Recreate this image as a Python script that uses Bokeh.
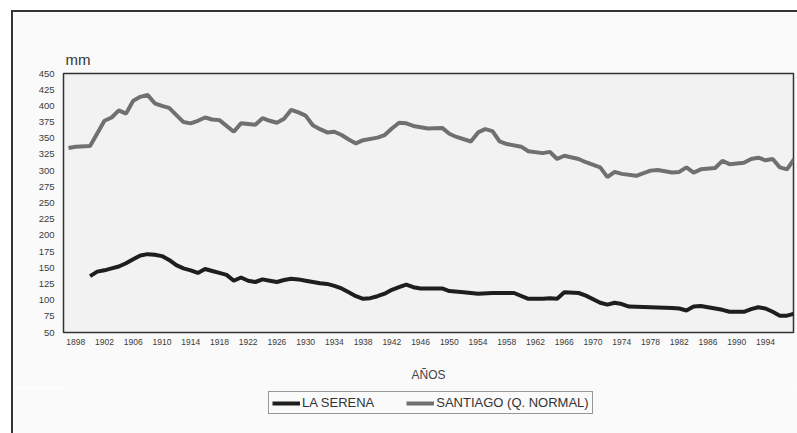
from bokeh.plotting import figure
from bokeh.layouts import column
from bokeh.models import Range1d, FixedTicker, Legend, LegendItem
from bokeh.embed import file_html
from bokeh.resources import INLINE

# ---- data ----
santiago_years = [1897, 1898, 1900, 1902, 1903, 1904, 1905, 1906, 1907, 1908, 1909, 1910, 1911,
                  1913, 1914, 1915, 1916, 1917, 1918, 1920, 1921, 1923, 1924, 1925, 1926, 1927,
                  1928, 1929, 1930, 1931, 1932, 1933, 1934, 1935, 1936, 1937, 1938, 1940, 1941,
                  1942, 1943, 1944, 1945, 1947, 1949, 1950, 1951, 1953, 1954, 1955, 1956, 1957,
                  1958, 1960, 1961, 1963, 1964, 1965, 1966, 1968, 1969, 1971, 1972, 1973, 1974,
                  1976, 1978, 1979, 1981, 1982, 1983, 1984, 1985, 1987, 1988, 1989, 1991, 1992,
                  1993, 1994, 1995, 1996, 1997, 1998]
santiago_mm = [335, 337, 338, 377, 382, 393, 388, 408, 414, 417, 404, 400, 397,
               375, 373, 377, 382, 379, 378, 360, 373, 371, 381, 377, 374, 380,
               394, 390, 385, 370, 364, 359, 360, 355, 348, 342, 347, 351, 355,
               365, 374, 373, 369, 365, 366, 357, 352, 345, 359, 364, 361, 345,
               341, 337, 330, 327, 329, 318, 323, 318, 313, 305, 290, 298, 295,
               292, 300, 301, 297, 298, 305, 297, 302, 304, 315, 310, 312, 318,
               320, 316, 318, 305, 302, 318]

serena_years = [1900, 1901, 1902, 1903, 1904, 1905, 1906, 1907, 1908, 1909, 1910, 1911, 1912,
                1913, 1914, 1915, 1916, 1917, 1918, 1919, 1920, 1921, 1922, 1923, 1924, 1925,
                1926, 1927, 1928, 1929, 1930, 1931, 1932, 1933, 1934, 1935, 1936, 1937, 1938,
                1939, 1940, 1941, 1942, 1943, 1944, 1945, 1946, 1949, 1950, 1952, 1954, 1956,
                1959, 1961, 1963, 1964, 1965, 1966, 1968, 1969, 1971, 1972, 1973, 1974, 1975,
                1978, 1981, 1982, 1983, 1984, 1985, 1986, 1988, 1989, 1991, 1992, 1993, 1994,
                1995, 1996, 1997, 1998]
serena_mm = [137, 144, 146, 149, 152, 157, 163, 169, 171, 170, 168, 162, 154,
             149, 146, 142, 148, 145, 142, 139, 130, 135, 130, 128, 132, 130,
             128, 131, 133, 132, 130, 128, 126, 125, 122, 118, 112, 106, 102,
             103, 106, 110, 116, 120, 124, 120, 118, 118, 114, 112, 110, 111,
             111, 102, 102, 103, 102, 112, 111, 107, 96, 93, 96, 94, 90,
             89, 88, 87, 84, 90, 91, 89, 85, 82, 82, 86, 89, 87,
             82, 76, 76, 79]

series_labels = ["LA SERENA", "SANTIAGO (Q. NORMAL)"]
x_ticks = list(range(1898, 1995, 4))
y_ticks = list(range(50, 451, 25))

FONT = "Liberation Sans"
BG = "#fafafa"
SERENA_COLOR = "#1e1e1e"
SANTIAGO_COLOR = "#707070"

# ---------- main chart ----------
p = figure(width=784, height=375, output_backend="svg", toolbar_location=None,
           x_range=Range1d(1896.3, 1997.9), y_range=Range1d(50, 450),
           min_border_left=50, min_border_right=4, min_border_top=61, min_border_bottom=55)

p.background_fill_color = "#f2f2f2"
p.border_fill_color = BG
p.outline_line_color = "#333333"
p.outline_line_width = 1.5
p.grid.visible = False

p.title.text = "mm"
p.title.align = "left"
p.title.offset = 2
p.title.standoff = 11
p.title.text_font = FONT
p.title.text_font_size = "15px"
p.title.text_font_style = "normal"
p.title.text_color = "#333333"

for ax in (p.xaxis[0], p.yaxis[0]):
    ax.axis_line_color = None
    ax.major_tick_line_color = None
    ax.minor_tick_line_color = None
    ax.major_tick_out = 0
    ax.major_tick_in = 0
    ax.minor_tick_out = 0
    ax.major_label_text_font = FONT
    ax.major_label_text_color = "#3a3a3a"

p.xaxis[0].ticker = FixedTicker(ticks=x_ticks)
p.xaxis[0].major_label_text_font_size = "8.5px"
p.xaxis[0].major_label_standoff = 6
p.xaxis[0].axis_label = "AÑOS"
p.xaxis[0].axis_label_text_font = FONT
p.xaxis[0].axis_label_text_font_size = "12px"
p.xaxis[0].axis_label_text_font_style = "normal"
p.xaxis[0].axis_label_text_color = "#444444"
p.xaxis[0].axis_label_standoff = 20

p.yaxis[0].ticker = FixedTicker(ticks=y_ticks)
p.yaxis[0].major_label_text_font_size = "9.5px"
p.yaxis[0].major_label_standoff = 9

p.line(serena_years, serena_mm, line_color=SERENA_COLOR, line_width=4)
p.line(santiago_years, santiago_mm, line_color=SANTIAGO_COLOR, line_width=4)

# ---------- legend strip below the chart ----------
p2 = figure(width=784, height=46, output_backend="svg", toolbar_location=None,
            x_axis_type=None, y_axis_type=None,
            x_range=Range1d(1896.3, 1997.9), y_range=Range1d(50, 450),
            min_border_left=0, min_border_right=0, min_border_top=0, min_border_bottom=0)
p2.background_fill_color = BG
p2.border_fill_color = BG
p2.outline_line_color = None

l1 = p2.line(serena_years, serena_mm, line_color=SERENA_COLOR, line_width=4, visible=False)
l2 = p2.line(santiago_years, santiago_mm, line_color=SANTIAGO_COLOR, line_width=4, visible=False)

legend = Legend(items=[LegendItem(label=series_labels[0], renderers=[l1]),
                       LegendItem(label=series_labels[1], renderers=[l2])],
                orientation="horizontal", location=(205, 19))
legend.padding = 3
legend.spacing = 32
legend.margin = 0
legend.glyph_width = 28
legend.glyph_height = 14
legend.label_height = 14
legend.label_standoff = 2
legend.label_text_font = FONT
legend.label_text_font_size = "13px"
legend.label_text_color = "#333333"
legend.border_line_color = "#333333"
legend.border_line_width = 1.5
legend.background_fill_color = BG
legend.background_fill_alpha = 1
p2.add_layout(legend, "center")

# outer chart frame: its left and top edges fall inside the window
layout = column(p, p2, spacing=0,
                styles={"border-left": "2px solid #333333", "border-top": "2px solid #333333",
                        "margin-left": "11px", "margin-top": "10px"})

open("out.html", "w").write(file_html(layout, INLINE))
